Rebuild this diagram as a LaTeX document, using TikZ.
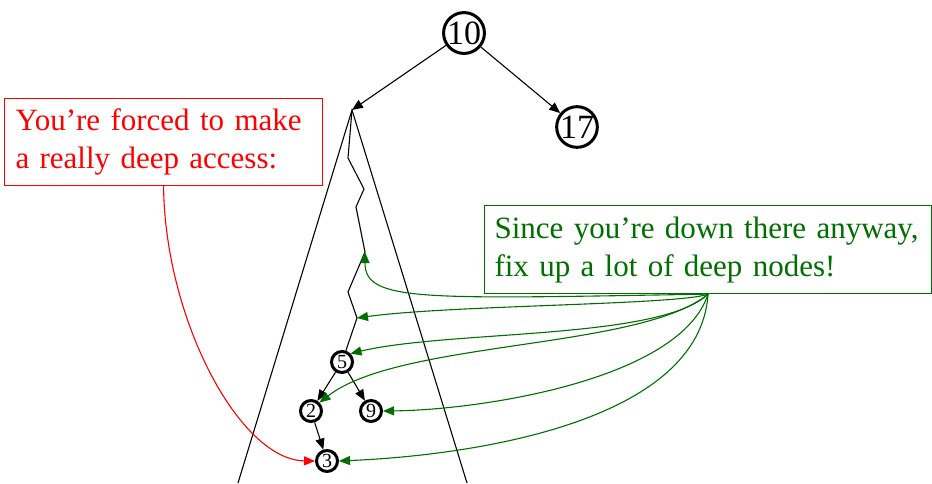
\documentclass[tikz,border=0pt]{standalone}
\usepackage{fontspec}
\setmainfont{Liberation Serif}
\usetikzlibrary{arrows.meta}
\definecolor{dgreen}{RGB}{0,110,0}
\hyphenpenalty=10000
\exhyphenpenalty=10000
\begin{document}
\begin{tikzpicture}[x=1pt,y=-1pt,
  tip/.style={-{Triangle[length=11pt,width=9pt]}},
  line/.style={line width=1.1pt},
  bignode/.style={circle,draw,line width=3pt,minimum size=39pt,inner sep=0pt,font=\fontsize{34}{34}\selectfont},
  smallnode/.style={circle,draw,line width=3pt,minimum size=21pt,inner sep=0pt,font=\fontsize{20}{20}\selectfont},
  boxtext/.style={line width=1.1pt,anchor=north west,align=left,inner ysep=5pt,font=\fontsize{31}{38}\selectfont},
  redbox/.style={boxtext,draw=red,text=red,inner xsep=11pt,text width=296pt,minimum height=87pt},
  greenbox/.style={boxtext,draw=dgreen,text=dgreen,inner xsep=10pt,text width=427pt,minimum height=88pt}]
\useasboundingbox (0,0) rectangle (932,483);
% tree nodes
\node[bignode] (n10) at (464,33) {10};
\node[bignode] (n17) at (577,127) {17};
\node[smallnode] (n5) at (342,362) {5};
\node[smallnode] (n2) at (311,411) {2};
\node[smallnode] (n9) at (371,411) {9};
\node[smallnode] (n3) at (327,461) {3};
% triangle and path
\coordinate (apex) at (352,110);
\coordinate (tl) at (238,483);
\coordinate (tr) at (467,483);
\coordinate (z1) at (348,158);
\coordinate (z2) at (364,189);
\coordinate (z3) at (356,207);
\coordinate (z4) at (365,252);
\coordinate (z5) at (348,292);
\coordinate (z6) at (357,318);
\draw[line] (tl) -- (apex) -- (tr);
\draw[line] (apex) -- (z1) -- (z2) -- (z3) -- (z4) -- (z5) -- (z6) -- (n5);
\draw[line,tip] (n10) -- (apex);
\draw[line,tip] (n10) -- (n17);
\draw[line,tip] (n5) -- (n2);
\draw[line,tip] (n5) -- (n9);
\draw[line,tip] (n2) -- (n3);
% boxes
\node[redbox] (rb) at (4,98) {You’re forced to make\\a really deep access:};
\node[greenbox] (gb) at (484,205) {Since you’re down there anyway,\\fix up a lot of deep nodes!};
% red arrow
\draw[line,red,tip] (rb.south) .. controls (165,320) and (240,460) .. (n3.west);
% green arrows
\begin{scope}[line,dgreen,tip]
\draw (gb.south) .. controls (420,299) and (365,302) .. (z4);
\draw (gb.south) .. controls (680,305) and (450,305) .. (z6);
\draw (gb.south) .. controls (660,340) and (450,330) .. (n5.north east);
\draw (gb.south) .. controls (640,350) and (400,340) .. (n2.north east);
\draw (gb.south) .. controls (680,380) and (480,410) .. (n9.east);
\draw (gb.south) .. controls (700,420) and (480,455) .. (n3.east);
\end{scope}
\end{tikzpicture}
\end{document}
